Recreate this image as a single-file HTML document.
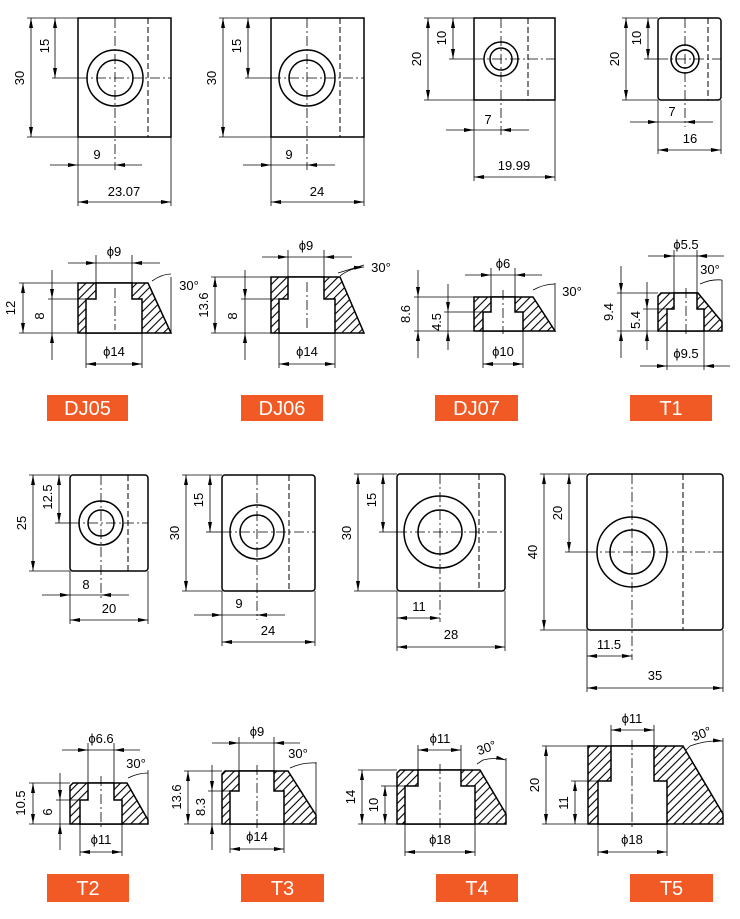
<!DOCTYPE html>
<html><head><meta charset="utf-8"><style>
html,body{margin:0;padding:0;background:#fff}
svg{display:block}
.o{fill:none;stroke:#000;stroke-width:1.5}
.t{fill:none;stroke:#000;stroke-width:.8}
.d{fill:none;stroke:#000;stroke-width:.8;marker-start:url(#a);marker-end:url(#a)}
.e{fill:none;stroke:#000;stroke-width:.8;marker-end:url(#a)}
.c{fill:none;stroke:#000;stroke-width:.8;stroke-dasharray:10 3 2 3}
.h{fill:none;stroke:#000;stroke-width:1;stroke-dasharray:6 3}
text{font-family:"Liberation Sans Narrow","Liberation Sans",sans-serif;font-size:13px;fill:#000;text-anchor:middle}
.lb{fill:#f15a24}
.lt{fill:#fff;font-family:"Liberation Sans",sans-serif;font-size:20px}
.hw{fill:#fff;stroke:#000;stroke-width:1.5}
.hat{fill:url(#hp);stroke:#000;stroke-width:1.5}
</style></head><body>
<svg width="740" height="919" viewBox="0 0 740 919" xmlns="http://www.w3.org/2000/svg">
<defs>
<marker id="a" viewBox="0 0 10 4" refX="10" refY="2" markerWidth="10" markerHeight="4" orient="auto-start-reverse" markerUnits="userSpaceOnUse"><path d="M0,0L10,2L0,4z"/></marker>
<pattern id="hp" width="6" height="6" patternUnits="userSpaceOnUse" patternTransform="rotate(45)"><rect width="6" height="6" fill="#fff"/><line x1="3" y1="-1" x2="3" y2="7" stroke="#000" stroke-width="1.1"/></pattern>
</defs>

<!-- DJ05 -->
<rect class="o" x="78" y="18" width="93" height="119"/>
<circle class="o" cx="115" cy="78" r="28"/><circle class="o" cx="115" cy="78" r="18"/>
<line class="h" x1="148" y1="18" x2="148" y2="137"/>
<line class="c" x1="115" y1="18" x2="115" y2="170"/><line class="c" x1="78" y1="78" x2="171" y2="78"/>
<line class="t" x1="52" y1="78" x2="78" y2="78"/>
<line class="t" x1="27" y1="18" x2="78" y2="18"/><line class="t" x1="27" y1="137" x2="78" y2="137"/>
<line class="d" x1="31" y1="18" x2="31" y2="137"/><text transform="translate(24,78) rotate(-90)">30</text>
<line class="d" x1="55" y1="18" x2="55" y2="78"/><text transform="translate(49,46) rotate(-90)">15</text>
<line class="e" x1="50" y1="165" x2="78" y2="165"/><line class="e" x1="142" y1="165" x2="115" y2="165"/><line class="t" x1="78" y1="165" x2="115" y2="165"/><text x="97" y="159">9</text>
<line class="t" x1="78" y1="137" x2="78" y2="206"/><line class="t" x1="171" y1="137" x2="171" y2="206"/>
<line class="d" x1="78" y1="202" x2="171" y2="202"/><text x="124" y="196">23.07</text>

<!-- DJ06 -->
<rect class="o" x="271" y="18" width="93" height="119"/>
<circle class="o" cx="307" cy="78" r="28"/><circle class="o" cx="307" cy="78" r="18"/>
<line class="h" x1="340" y1="18" x2="340" y2="137"/>
<line class="c" x1="307" y1="18" x2="307" y2="170"/><line class="c" x1="271" y1="78" x2="364" y2="78"/>
<line class="t" x1="245" y1="78" x2="271" y2="78"/>
<line class="t" x1="219" y1="18" x2="271" y2="18"/><line class="t" x1="219" y1="137" x2="271" y2="137"/>
<line class="d" x1="223" y1="18" x2="223" y2="137"/><text transform="translate(216,78) rotate(-90)">30</text>
<line class="d" x1="248" y1="18" x2="248" y2="78"/><text transform="translate(241,46) rotate(-90)">15</text>
<line class="e" x1="243" y1="165" x2="271" y2="165"/><line class="e" x1="335" y1="165" x2="307" y2="165"/><line class="t" x1="271" y1="165" x2="307" y2="165"/><text x="289" y="159">9</text>
<line class="t" x1="271" y1="137" x2="271" y2="206"/><line class="t" x1="364" y1="137" x2="364" y2="206"/>
<line class="d" x1="271" y1="202" x2="364" y2="202"/><text x="317" y="196">24</text>

<!-- DJ07 -->
<rect class="o" x="474" y="18" width="81" height="82"/>
<circle class="o" cx="501" cy="59" r="17"/><circle class="o" cx="501" cy="59" r="11"/>
<line class="h" x1="528" y1="18" x2="528" y2="100"/>
<line class="c" x1="501" y1="18" x2="501" y2="135"/><line class="c" x1="474" y1="59" x2="555" y2="59"/>
<line class="t" x1="449" y1="59" x2="474" y2="59"/>
<line class="t" x1="424" y1="18" x2="474" y2="18"/><line class="t" x1="424" y1="100" x2="474" y2="100"/>
<line class="d" x1="428" y1="18" x2="428" y2="100"/><text transform="translate(421,59) rotate(-90)">20</text>
<line class="d" x1="453" y1="18" x2="453" y2="59"/><text transform="translate(446,38) rotate(-90)">10</text>
<line class="e" x1="446" y1="130" x2="474" y2="130"/><line class="e" x1="529" y1="130" x2="501" y2="130"/><line class="t" x1="474" y1="130" x2="501" y2="130"/><text x="488" y="124">7</text>
<line class="t" x1="474" y1="100" x2="474" y2="181"/><line class="t" x1="555" y1="100" x2="555" y2="181"/>
<line class="d" x1="474" y1="177" x2="555" y2="177"/><text x="514" y="170">19.99</text>

<!-- T1 -->
<rect class="o" x="658" y="18" width="63" height="82" rx="3"/>
<circle class="o" cx="685" cy="59" r="14"/><circle class="o" cx="685" cy="59" r="9"/>
<line class="h" x1="708" y1="18" x2="708" y2="100"/>
<line class="c" x1="685" y1="18" x2="685" y2="127"/><line class="c" x1="658" y1="59" x2="721" y2="59"/>
<line class="t" x1="644" y1="59" x2="658" y2="59"/>
<line class="t" x1="622" y1="18" x2="658" y2="18"/><line class="t" x1="622" y1="100" x2="658" y2="100"/>
<line class="d" x1="626" y1="18" x2="626" y2="100"/><text transform="translate(619,59) rotate(-90)">20</text>
<line class="d" x1="648" y1="18" x2="648" y2="59"/><text transform="translate(641,38) rotate(-90)">10</text>
<line class="e" x1="630" y1="122" x2="658" y2="122"/><line class="e" x1="713" y1="122" x2="685" y2="122"/><line class="t" x1="658" y1="122" x2="685" y2="122"/><text x="672" y="116">7</text>
<line class="t" x1="658" y1="100" x2="658" y2="154"/><line class="t" x1="721" y1="100" x2="721" y2="154"/>
<line class="d" x1="658" y1="150" x2="721" y2="150"/><text x="690" y="143">16</text>

<!-- DJ05 side -->
<path class="hat" d="M78,283L148,283L171,333L78,333Z"/>
<path class="hw" d="M96,283L132,283L132,299L142,299L142,333L86,333L86,299L96,299Z"/>
<line class="c" x1="115" y1="288" x2="115" y2="330"/>
<line class="t" x1="19" y1="283" x2="78" y2="283"/><line class="t" x1="19" y1="333" x2="78" y2="333"/><line class="t" x1="48" y1="299" x2="86" y2="299"/>
<line class="d" x1="23" y1="283" x2="23" y2="333"/><text transform="translate(15,308) rotate(-90)">12</text>
<line class="e" x1="52" y1="270" x2="52" y2="299"/><line class="e" x1="52" y1="360" x2="52" y2="333"/><line class="t" x1="52" y1="299" x2="52" y2="333"/><text transform="translate(44,316) rotate(-90)">8</text>
<line class="t" x1="96" y1="255" x2="96" y2="283"/><line class="t" x1="132" y1="255" x2="132" y2="283"/>
<line class="e" x1="68" y1="263" x2="96" y2="263"/><line class="e" x1="160" y1="263" x2="132" y2="263"/><line class="t" x1="96" y1="263" x2="132" y2="263"/><text x="114" y="256">ϕ9</text>
<line class="t" x1="86" y1="333" x2="86" y2="368"/><line class="t" x1="142" y1="333" x2="142" y2="368"/>
<line class="d" x1="86" y1="364" x2="142" y2="364"/><text x="114" y="356">ϕ14</text>
<line class="t" x1="171" y1="333" x2="171" y2="277"/><path class="t" d="M152,281Q162,274 171,274"/><text x="189" y="290">30°</text>

<!-- DJ06 side -->
<path class="hat" d="M271,277L340,277L364,333L271,333Z"/>
<path class="hw" d="M288,277L324,277L324,299L335,299L335,333L279,333L279,299L288,299Z"/>
<line class="c" x1="307" y1="282" x2="307" y2="330"/>
<line class="t" x1="211" y1="277" x2="271" y2="277"/><line class="t" x1="211" y1="333" x2="271" y2="333"/><line class="t" x1="241" y1="299" x2="279" y2="299"/>
<line class="d" x1="215" y1="277" x2="215" y2="333"/><text transform="translate(208,305) rotate(-90)">13.6</text>
<line class="e" x1="245" y1="270" x2="245" y2="299"/><line class="e" x1="245" y1="360" x2="245" y2="333"/><line class="t" x1="245" y1="299" x2="245" y2="333"/><text transform="translate(237,316) rotate(-90)">8</text>
<line class="t" x1="288" y1="250" x2="288" y2="277"/><line class="t" x1="324" y1="250" x2="324" y2="277"/>
<line class="e" x1="262" y1="257" x2="288" y2="257"/><line class="e" x1="352" y1="257" x2="324" y2="257"/><line class="t" x1="288" y1="257" x2="324" y2="257"/><text x="306" y="250">ϕ9</text>
<line class="t" x1="279" y1="333" x2="279" y2="368"/><line class="t" x1="335" y1="333" x2="335" y2="368"/>
<line class="d" x1="279" y1="364" x2="335" y2="364"/><text x="307" y="356">ϕ14</text>
<line class="t" x1="338" y1="273" x2="364" y2="265"/><path class="e" d="M340,276Q350,268 364,267"/><text x="381" y="272">30°</text>

<!-- DJ07 side -->
<path class="hat" d="M474,297L533,297L555,331L474,331Z"/>
<path class="hw" d="M491,297L515,297L515,312L523,312L523,331L483,331L483,312L491,312Z"/>
<line class="c" x1="503" y1="290" x2="503" y2="334"/>
<line class="t" x1="414" y1="297" x2="474" y2="297"/><line class="t" x1="414" y1="331" x2="474" y2="331"/><line class="t" x1="444" y1="312" x2="483" y2="312"/>
<line class="e" x1="418" y1="270" x2="418" y2="297"/><line class="e" x1="418" y1="358" x2="418" y2="331"/><line class="t" x1="418" y1="297" x2="418" y2="331"/><text transform="translate(410,314) rotate(-90)">8.6</text>
<line class="e" x1="448" y1="284" x2="448" y2="312"/><line class="e" x1="448" y1="350" x2="448" y2="331"/><line class="t" x1="448" y1="312" x2="448" y2="331"/><text transform="translate(441,322) rotate(-90)">4.5</text>
<line class="t" x1="491" y1="268" x2="491" y2="297"/><line class="t" x1="515" y1="268" x2="515" y2="297"/>
<line class="e" x1="465" y1="275" x2="491" y2="275"/><line class="e" x1="542" y1="275" x2="515" y2="275"/><line class="t" x1="491" y1="275" x2="515" y2="275"/><text x="503" y="268">ϕ6</text>
<line class="t" x1="483" y1="331" x2="483" y2="368"/><line class="t" x1="523" y1="331" x2="523" y2="368"/>
<line class="d" x1="483" y1="364" x2="523" y2="364"/><text x="503" y="356">ϕ10</text>
<line class="t" x1="555" y1="331" x2="555" y2="283"/><path class="t" d="M533,290Q544,284 555,284"/><text x="572" y="296">30°</text>

<!-- T1 side -->
<path class="hat" d="M661,293L698,293L722,322L722,331L658,331L658,296Z"/>
<path class="hw" d="M674,293L697,293L697,309L704,309L704,331L667,331L667,309L674,309Z"/>
<line class="c" x1="686" y1="288" x2="686" y2="334"/>
<line class="t" x1="617" y1="293" x2="658" y2="293"/><line class="t" x1="617" y1="331" x2="658" y2="331"/><line class="t" x1="643" y1="309" x2="667" y2="309"/>
<line class="e" x1="621" y1="266" x2="621" y2="293"/><line class="e" x1="621" y1="358" x2="621" y2="331"/><line class="t" x1="621" y1="293" x2="621" y2="331"/><text transform="translate(613,312) rotate(-90)">9.4</text>
<line class="e" x1="647" y1="282" x2="647" y2="309"/><line class="e" x1="647" y1="350" x2="647" y2="331"/><line class="t" x1="647" y1="309" x2="647" y2="331"/><text transform="translate(640,320) rotate(-90)">5.4</text>
<line class="t" x1="674" y1="250" x2="674" y2="293"/><line class="t" x1="697" y1="250" x2="697" y2="293"/>
<line class="e" x1="648" y1="256" x2="674" y2="256"/><line class="e" x1="724" y1="256" x2="697" y2="256"/><line class="t" x1="674" y1="256" x2="697" y2="256"/><text x="686" y="249">ϕ5.5</text>
<line class="t" x1="667" y1="331" x2="667" y2="370"/><line class="t" x1="704" y1="331" x2="704" y2="370"/>
<line class="e" x1="640" y1="366" x2="667" y2="366"/><line class="e" x1="730" y1="366" x2="704" y2="366"/><line class="t" x1="667" y1="366" x2="704" y2="366"/><text x="686" y="358">ϕ9.5</text>
<line class="t" x1="722" y1="322" x2="722" y2="280"/><path class="t" d="M700,284Q711,279 722,280"/><text x="710" y="274">30°</text>

<rect class="lb" x="47" y="395" width="81" height="26"/><text class="lt" x="87.5" y="415">DJ05</text>
<rect class="lb" x="241" y="395" width="82" height="26"/><text class="lt" x="282" y="415">DJ06</text>
<rect class="lb" x="435" y="395" width="83" height="26"/><text class="lt" x="476.5" y="415">DJ07</text>
<rect class="lb" x="630" y="395" width="82" height="26"/><text class="lt" x="671" y="415">T1</text>

<!-- T2 -->
<rect class="o" x="70" y="475" width="78" height="96" rx="3"/>
<circle class="o" cx="101" cy="523" r="22"/><circle class="o" cx="101" cy="523" r="13"/>
<line class="h" x1="128" y1="475" x2="128" y2="571"/>
<line class="c" x1="101" y1="475" x2="101" y2="599"/><line class="c" x1="70" y1="523" x2="148" y2="523"/>
<line class="t" x1="55" y1="523" x2="70" y2="523"/>
<line class="t" x1="29" y1="475" x2="70" y2="475"/><line class="t" x1="29" y1="571" x2="70" y2="571"/>
<line class="d" x1="33" y1="475" x2="33" y2="571"/><text transform="translate(26,523) rotate(-90)">25</text>
<line class="d" x1="59" y1="475" x2="59" y2="523"/><text transform="translate(52,497) rotate(-90)">12.5</text>
<line class="e" x1="42" y1="595" x2="70" y2="595"/><line class="e" x1="129" y1="595" x2="101" y2="595"/><line class="t" x1="70" y1="595" x2="101" y2="595"/><text x="86" y="589">8</text>
<line class="t" x1="70" y1="571" x2="70" y2="624"/><line class="t" x1="148" y1="571" x2="148" y2="624"/>
<line class="d" x1="70" y1="620" x2="148" y2="620"/><text x="109" y="613">20</text>

<!-- T3 -->
<rect class="o" x="222" y="475" width="93" height="116" rx="3"/>
<circle class="o" cx="257" cy="532" r="27"/><circle class="o" cx="257" cy="532" r="17"/>
<line class="h" x1="289" y1="475" x2="289" y2="591"/>
<line class="c" x1="257" y1="475" x2="257" y2="620"/><line class="c" x1="222" y1="532" x2="315" y2="532"/>
<line class="t" x1="206" y1="532" x2="222" y2="532"/>
<line class="t" x1="182" y1="475" x2="222" y2="475"/><line class="t" x1="182" y1="591" x2="222" y2="591"/>
<line class="d" x1="186" y1="475" x2="186" y2="591"/><text transform="translate(179,533) rotate(-90)">30</text>
<line class="d" x1="210" y1="475" x2="210" y2="532"/><text transform="translate(203,500) rotate(-90)">15</text>
<line class="e" x1="194" y1="615" x2="222" y2="615"/><line class="e" x1="285" y1="615" x2="257" y2="615"/><line class="t" x1="222" y1="615" x2="257" y2="615"/><text x="239" y="608">9</text>
<line class="t" x1="222" y1="591" x2="222" y2="646"/><line class="t" x1="315" y1="591" x2="315" y2="646"/>
<line class="d" x1="222" y1="642" x2="315" y2="642"/><text x="268" y="635">24</text>

<!-- T4 -->
<rect class="o" x="397" y="474" width="108" height="117" rx="3"/>
<circle class="o" cx="440" cy="532" r="36"/><circle class="o" cx="440" cy="532" r="22"/>
<line class="h" x1="479" y1="474" x2="479" y2="591"/>
<line class="c" x1="440" y1="474" x2="440" y2="622"/><line class="c" x1="397" y1="532" x2="505" y2="532"/>
<line class="t" x1="379" y1="532" x2="397" y2="532"/>
<line class="t" x1="354" y1="474" x2="397" y2="474"/><line class="t" x1="354" y1="591" x2="397" y2="591"/>
<line class="d" x1="358" y1="474" x2="358" y2="591"/><text transform="translate(351,533) rotate(-90)">30</text>
<line class="d" x1="383" y1="474" x2="383" y2="532"/><text transform="translate(376,500) rotate(-90)">15</text>
<line class="t" x1="397" y1="591" x2="397" y2="651"/><line class="t" x1="505" y1="591" x2="505" y2="651"/>
<line class="d" x1="397" y1="618" x2="440" y2="618"/><text x="419" y="611">11</text>
<line class="d" x1="397" y1="647" x2="505" y2="647"/><text x="451" y="639">28</text>

<!-- T5 -->
<rect class="o" x="587" y="474" width="136" height="156" rx="3"/>
<circle class="o" cx="632" cy="552" r="35"/><circle class="o" cx="632" cy="552" r="22"/>
<line class="h" x1="683" y1="474" x2="683" y2="630"/>
<line class="c" x1="632" y1="474" x2="632" y2="660"/><line class="c" x1="587" y1="552" x2="723" y2="552"/>
<line class="t" x1="565" y1="552" x2="587" y2="552"/>
<line class="t" x1="540" y1="474" x2="587" y2="474"/><line class="t" x1="540" y1="630" x2="587" y2="630"/>
<line class="d" x1="544" y1="474" x2="544" y2="630"/><text transform="translate(537,552) rotate(-90)">40</text>
<line class="d" x1="569" y1="474" x2="569" y2="552"/><text transform="translate(562,513) rotate(-90)">20</text>
<line class="t" x1="587" y1="630" x2="587" y2="692"/><line class="t" x1="723" y1="630" x2="723" y2="692"/>
<line class="d" x1="587" y1="656" x2="632" y2="656"/><text x="609" y="649">11.5</text>
<line class="d" x1="587" y1="688" x2="723" y2="688"/><text x="655" y="680">35</text>

<!-- T2 side -->
<path class="hat" d="M73,783L127,783L148,820L148,824L70,824L70,786Z"/>
<path class="hw" d="M88,783L114,783L114,800L122,800L122,824L80,824L80,800L88,800Z"/>
<line class="c" x1="101" y1="776" x2="101" y2="828"/>
<line class="t" x1="29" y1="783" x2="70" y2="783"/><line class="t" x1="29" y1="824" x2="70" y2="824"/><line class="t" x1="56" y1="800" x2="80" y2="800"/>
<line class="d" x1="33" y1="783" x2="33" y2="824"/><text transform="translate(25,803) rotate(-90)">10.5</text>
<line class="e" x1="60" y1="773" x2="60" y2="800"/><line class="e" x1="60" y1="850" x2="60" y2="824"/><line class="t" x1="60" y1="800" x2="60" y2="824"/><text transform="translate(52,812) rotate(-90)">6</text>
<line class="t" x1="88" y1="743" x2="88" y2="783"/><line class="t" x1="114" y1="743" x2="114" y2="783"/>
<line class="e" x1="62" y1="750" x2="88" y2="750"/><line class="e" x1="140" y1="750" x2="114" y2="750"/><line class="t" x1="88" y1="750" x2="114" y2="750"/><text x="101" y="743">ϕ6.6</text>
<line class="t" x1="80" y1="824" x2="80" y2="856"/><line class="t" x1="122" y1="824" x2="122" y2="856"/>
<line class="d" x1="80" y1="852" x2="122" y2="852"/><text x="101" y="844">ϕ11</text>
<line class="t" x1="148" y1="820" x2="148" y2="770"/><path class="t" d="M128,778Q138,773 148,773"/><text x="136" y="768">30°</text>

<!-- T3 side -->
<path class="hat" d="M225,771L288,771L316,815L316,824L222,824L222,774Z"/>
<path class="hw" d="M239,771L274,771L274,791L284,791L284,824L230,824L230,791L239,791Z"/>
<line class="c" x1="257" y1="765" x2="257" y2="828"/>
<line class="t" x1="184" y1="771" x2="222" y2="771"/><line class="t" x1="184" y1="824" x2="222" y2="824"/><line class="t" x1="208" y1="791" x2="230" y2="791"/>
<line class="d" x1="188" y1="771" x2="188" y2="824"/><text transform="translate(181,797) rotate(-90)">13.6</text>
<line class="e" x1="212" y1="765" x2="212" y2="791"/><line class="e" x1="212" y1="850" x2="212" y2="824"/><line class="t" x1="212" y1="791" x2="212" y2="824"/><text transform="translate(205,807) rotate(-90)">8.3</text>
<line class="t" x1="239" y1="737" x2="239" y2="771"/><line class="t" x1="274" y1="737" x2="274" y2="771"/>
<line class="e" x1="212" y1="743" x2="239" y2="743"/><line class="e" x1="300" y1="743" x2="274" y2="743"/><line class="t" x1="239" y1="743" x2="274" y2="743"/><text x="257" y="736">ϕ9</text>
<line class="t" x1="230" y1="824" x2="230" y2="853"/><line class="t" x1="284" y1="824" x2="284" y2="853"/>
<line class="d" x1="230" y1="849" x2="284" y2="849"/><text x="257" y="841">ϕ14</text>
<line class="t" x1="316" y1="815" x2="316" y2="762"/><path class="t" d="M290,768Q303,762 316,763"/><text x="298" y="758">30°</text>

<!-- T4 side -->
<path class="hat" d="M400,770L480,770L506,814L506,824L397,824L397,773Z"/>
<path class="hw" d="M418,770L461,770L461,786L475,786L475,824L405,824L405,786L418,786Z"/>
<line class="c" x1="440" y1="764" x2="440" y2="828"/>
<line class="t" x1="358" y1="770" x2="397" y2="770"/><line class="t" x1="358" y1="824" x2="397" y2="824"/><line class="t" x1="381" y1="786" x2="405" y2="786"/>
<line class="d" x1="362" y1="770" x2="362" y2="824"/><text transform="translate(355,797) rotate(-90)">14</text>
<line class="d" x1="385" y1="786" x2="385" y2="824"/><text transform="translate(378,805) rotate(-90)">10</text>
<line class="t" x1="418" y1="745" x2="418" y2="770"/><line class="t" x1="461" y1="745" x2="461" y2="770"/>
<line class="d" x1="418" y1="750" x2="461" y2="750"/><text x="440" y="743">ϕ11</text>
<line class="t" x1="405" y1="824" x2="405" y2="856"/><line class="t" x1="475" y1="824" x2="475" y2="856"/>
<line class="d" x1="405" y1="852" x2="475" y2="852"/><text x="440" y="844">ϕ18</text>
<line class="t" x1="506" y1="814" x2="506" y2="758"/><line class="t" x1="477" y1="764" x2="483" y2="760"/><path class="e" d="M483,760Q494,757 506,760"/><text transform="translate(488,752) rotate(-20)">30°</text>

<!-- T5 side -->
<path class="hat" d="M588,746L683,746L723,814L723,824L588,824Z"/>
<path class="hw" d="M611,746L654,746L654,781L667,781L667,824L598,824L598,781L611,781Z"/>
<line class="c" x1="632" y1="740" x2="632" y2="828"/>
<line class="t" x1="542" y1="746" x2="588" y2="746"/><line class="t" x1="542" y1="824" x2="588" y2="824"/><line class="t" x1="571" y1="781" x2="598" y2="781"/>
<line class="d" x1="546" y1="746" x2="546" y2="824"/><text transform="translate(539,785) rotate(-90)">20</text>
<line class="d" x1="575" y1="781" x2="575" y2="824"/><text transform="translate(568,803) rotate(-90)">11</text>
<line class="t" x1="611" y1="725" x2="611" y2="746"/><line class="t" x1="654" y1="725" x2="654" y2="746"/>
<line class="d" x1="611" y1="730" x2="654" y2="730"/><text x="632" y="723">ϕ11</text>
<line class="t" x1="598" y1="824" x2="598" y2="856"/><line class="t" x1="667" y1="824" x2="667" y2="856"/>
<line class="d" x1="598" y1="852" x2="667" y2="852"/><text x="632" y="844">ϕ18</text>
<line class="t" x1="723" y1="814" x2="723" y2="738"/><line class="t" x1="686" y1="750" x2="690" y2="746"/><path class="e" d="M690,746Q706,740 723,741"/><text transform="translate(703,738) rotate(-20)">30°</text>

<rect class="lb" x="47" y="874" width="82" height="28"/><text class="lt" x="88" y="895">T2</text>
<rect class="lb" x="241" y="874" width="83" height="28"/><text class="lt" x="282.5" y="895">T3</text>
<rect class="lb" x="436" y="874" width="82" height="28"/><text class="lt" x="477" y="895">T4</text>
<rect class="lb" x="630" y="874" width="83" height="28"/><text class="lt" x="671.5" y="895">T5</text>
</svg>
</body></html>
